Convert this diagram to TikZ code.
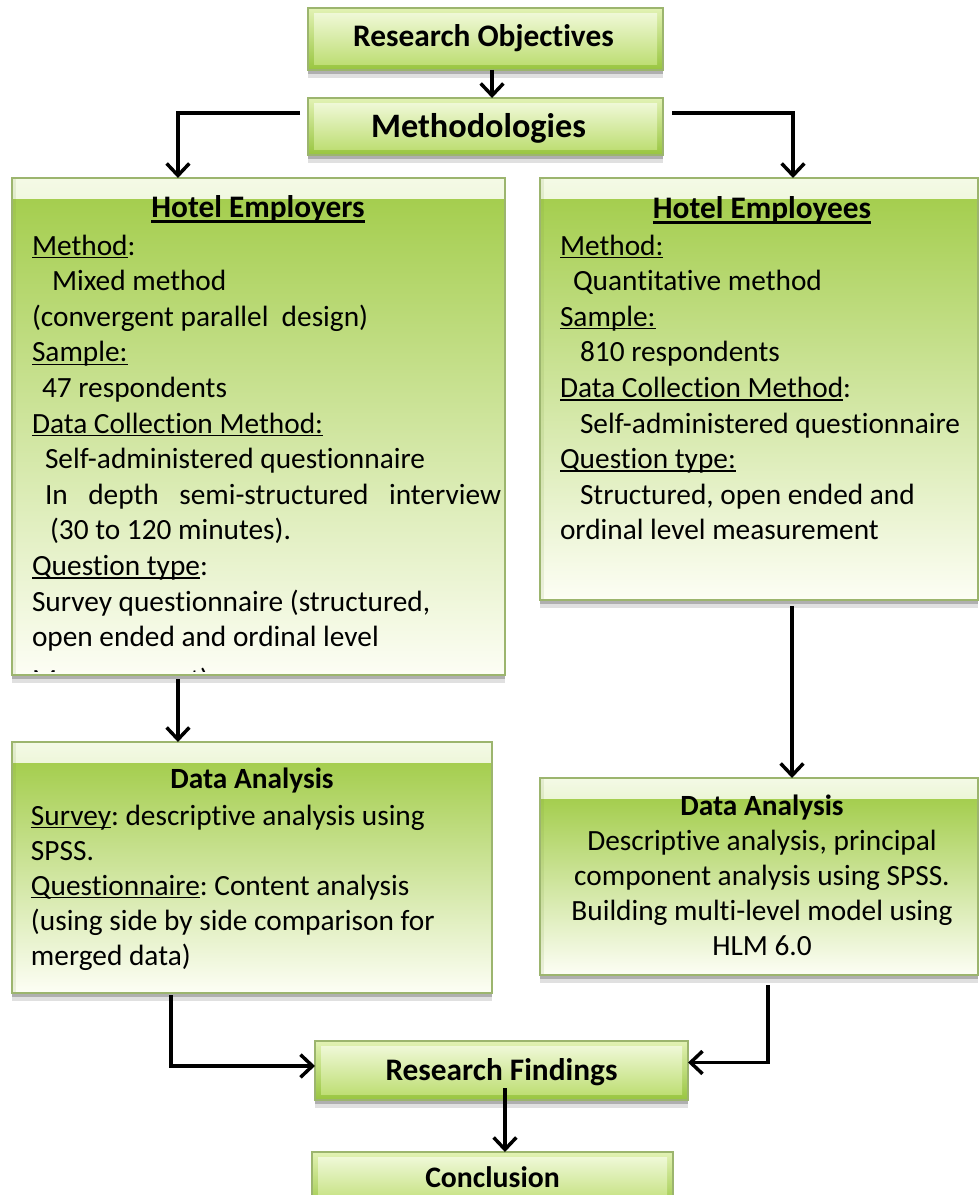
\documentclass[tikz,border=0pt]{standalone}
\usepackage{fontspec}
\setmainfont[RawFeature={-liga}]{Carlito}
\usetikzlibrary{arrows.meta,shadows}

% box colours
\definecolor{gTop}{HTML}{F4FAE6}
\definecolor{gMain}{HTML}{A5CE4F}
\definecolor{gMid}{HTML}{C4E087}
\definecolor{gBot}{HTML}{FDFEF5}
\definecolor{sTop}{HTML}{E2F2B4}
\definecolor{sBot}{HTML}{98C53F}
\definecolor{sInTop}{HTML}{EFF8D6}
\definecolor{sInBot}{HTML}{BEDE74}
\definecolor{boxEdge}{HTML}{9CB56E}

% underlines at a fixed depth below the baseline
\newcommand{\uln}[1]{\setbox0\hbox{#1}\leavevmode\rlap{\rule[-2.4pt]{\wd0}{1.1pt}}\box0}
\newcommand{\ulb}[1]{\setbox0\hbox{#1}\leavevmode\rlap{\rule[-4.2pt]{\wd0}{1.6pt}}\box0}
\newcommand{\bodyfont}{\fontsize{22}{26.7}\selectfont\frenchspacing}
\newcommand{\headfont}{\fontsize{23.5}{28}\selectfont\bfseries}
\newcommand{\subheadfont}{\fontsize{22}{26.7}\selectfont\bfseries}

\begin{document}
\begin{tikzpicture}[x=0.75pt,y=-0.75pt,
  boxshadow/.style={
    drop shadow={shadow xshift=0pt,shadow yshift=-3pt,fill=black,opacity=0.22},
    drop shadow={shadow xshift=0pt,shadow yshift=-6pt,fill=black,opacity=0.12}},
  bigbox/.style={boxshadow, draw=boxEdge, line width=0.8pt, inner sep=0pt, outer sep=0pt,
    path picture={
      \shade[top color=gTop, bottom color=gMain]
        (path picture bounding box.north west) rectangle
        ([yshift=-16pt]path picture bounding box.north east);
      \shade[top color=gMain, middle color=gMid, bottom color=gBot]
        ([yshift=-16pt]path picture bounding box.north west) rectangle
        (path picture bounding box.south east);
      \fill[gMain!70!black, opacity=0.12]
        (path picture bounding box.north west) rectangle
        ([xshift=3pt]path picture bounding box.south west);
    }},
  smallbox/.style={boxshadow, draw=boxEdge, line width=0.8pt, inner sep=0pt, outer sep=0pt,
    path picture={
      \shade[top color=sTop, bottom color=sBot]
        (path picture bounding box.north west) rectangle
        (path picture bounding box.south east);
      \shade[top color=sInTop, bottom color=sInBot]
        ([shift={(4.5pt,-4pt)}]path picture bounding box.north west) rectangle
        ([shift={(-4.5pt,4pt)}]path picture bounding box.south east);
    }},
  txt/.style={inner sep=0pt, outer sep=0pt, anchor=base west, font=\bodyfont},
  ctxt/.style={inner sep=0pt, outer sep=0pt, anchor=base, font=\bodyfont},
  head/.style={inner sep=0pt, outer sep=0pt, anchor=base, font=\headfont},
  subhead/.style={inner sep=0pt, outer sep=0pt, anchor=base, font=\subheadfont},
  arr/.style={line width=2.6pt, -{Straight Barb[length=9pt,width=17pt]}}
]
\useasboundingbox (0,0) rectangle (979,1195);
\clip (0,0) rectangle (979,1195);

% ---- boxes ----
\node[smallbox, minimum width=266.25pt, minimum height=46.5pt]  (obj)   at (485.5,39)    {};
\node[smallbox, minimum width=266.25pt, minimum height=42.75pt] (meth)  at (485.5,126.5) {};
\node[bigbox,   minimum width=369.75pt, minimum height=372.75pt](empr)  at (258.5,426.5) {};
\node[bigbox,   minimum width=328.5pt,  minimum height=316.5pt] (empe)  at (759,389)     {};
\node[bigbox,   minimum width=360pt,    minimum height=188.25pt](anl)   at (252,867.5)   {};
\node[bigbox,   minimum width=328.5pt,  minimum height=147.75pt](anr)   at (759,876.5)   {};
\node[smallbox, minimum width=279.75pt, minimum height=44.25pt] (find)  at (501.5,1070.5) {};
\node[smallbox, minimum width=270.75pt, minimum height=45pt]    (concl) at (492.5,1182)  {};

% ---- headings of the small boxes ----
\node[head] (tObj)   at (483.5,47)  {Research Objectives};
\node[head, font=\fontsize{25.7}{30}\selectfont\bfseries] (tMeth) at (478.5,138) {Methodologies};
\node[head] (tFind)  at (501.5,1080) {Research Findings};
\node[head, font=\fontsize{22.3}{27}\selectfont\bfseries] (tConcl) at (492.5,1187) {Conclusion};

% ---- hotel employers ----
\node[head] (tEmpr) at (258,217) {\ulb{Hotel Employers}};
\node[txt] (l1)  at (32,255)   {\uln{Method}:};
\node[txt] (l2)  at (52,290.6) {Mixed method};
\node[txt] (l3)  at (32,326.2) {(convergent parallel\ \ design)};
\node[txt] (l4)  at (32,361.8) {\uln{Sample:}};
\node[txt] (l5)  at (42,397.4) {47 respondents};
\node[txt] (l6)  at (32,433)   {\uln{Data Collection Method:}};
\node[txt] (l7)  at (45,468.6) {Self-administered questionnaire};
\node[txt] (l8)  at (45,504.2) {\makebox[342pt][s]{In depth semi-structured interview}};
\node[txt] (l9)  at (50,539.8) {(30 to 120 minutes).};
\node[txt] (l10) at (32,575.4) {\uln{Question type}:};
\node[txt] (l11) at (32,611)   {Survey questionnaire (structured,};
\node[txt] (l12) at (32,646.6) {open ended and ordinal level};
\begin{scope}
  \clip (empr.north west) rectangle ([yshift=2.5pt]empr.south east);
  \node[txt] (l13) at (32,689) {Measurement)};
\end{scope}

% ---- hotel employees ----
\node[head] (tEmpe) at (762,218) {\ulb{Hotel Employees}};
\node[txt] (r1) at (560,255)   {\uln{Method:}};
\node[txt] (r2) at (573,290.6) {Quantitative method};
\node[txt] (r3) at (560,326.2) {\uln{Sample:}};
\node[txt] (r4) at (580,361.8) {810 respondents};
\node[txt] (r5) at (560,397.4) {\uln{Data Collection Method}:};
\node[txt] (r6) at (580,433)   {Self-administered questionnaire};
\node[txt] (r7) at (560,468.6) {\uln{Question type:}};
\node[txt] (r8) at (580,504.2) {Structured, open ended and};
\node[txt] (r9) at (560,539.8) {ordinal level measurement};

% ---- data analysis, left ----
\node[subhead] (tAnl) at (252,788) {Data Analysis};
\node[txt] (a1) at (31,825) {\uln{Survey}: descriptive analysis using};
\node[txt] (a2) at (31,860) {SPSS.};
\node[txt] (a3) at (31,895) {\uln{Questionnaire}: Content analysis};
\node[txt] (a4) at (31,930) {(using side by side comparison for};
\node[txt] (a5) at (31,965) {merged data)};

% ---- data analysis, right ----
\node[subhead] (tAnr) at (762,815) {Data Analysis};
\node[ctxt] (b1) at (762,850) {Descriptive analysis, principal};
\node[ctxt] (b2) at (762,885) {component analysis using SPSS.};
\node[ctxt] (b3) at (762,920) {Building multi-level model using};
\node[ctxt] (b4) at (762,955) {HLM 6.0};

% ---- connectors ----
\draw[arr] ([xshift=4.9pt]obj.south) -- ([xshift=4.9pt]meth.north);
\draw[arr] ([shift={(-6pt,10pt)}]meth.west) -| ([xshift=-60.4pt]empr.north);
\draw[arr] ([shift={(7pt,10pt)}]meth.east) -| ([xshift=25.5pt]empe.north);
\coordinate (c1) at ([xshift=-60.4pt,yshift=-3pt]empr.south);
\draw[arr] (c1) -- (c1 |- anl.north);
\coordinate (c2) at ([xshift=24.75pt,yshift=-4.5pt]empe.south);
\draw[arr] (c2) -- (c2 |- anr.north);
\coordinate (c3) at ([xshift=-60.75pt,yshift=-1.5pt]anl.south);
\draw[arr] (c3) |- ([yshift=3.4pt]find.west);
\coordinate (c4) at ([xshift=6.75pt,yshift=-7.5pt]anr.south);
\draw[arr] (c4) |- ([yshift=6pt]find.east);
\coordinate (c5) at ([xshift=2.6pt,yshift=9pt]find.south);
\draw[arr] (c5) -- (c5 |- concl.north);
\end{tikzpicture}
\end{document}
